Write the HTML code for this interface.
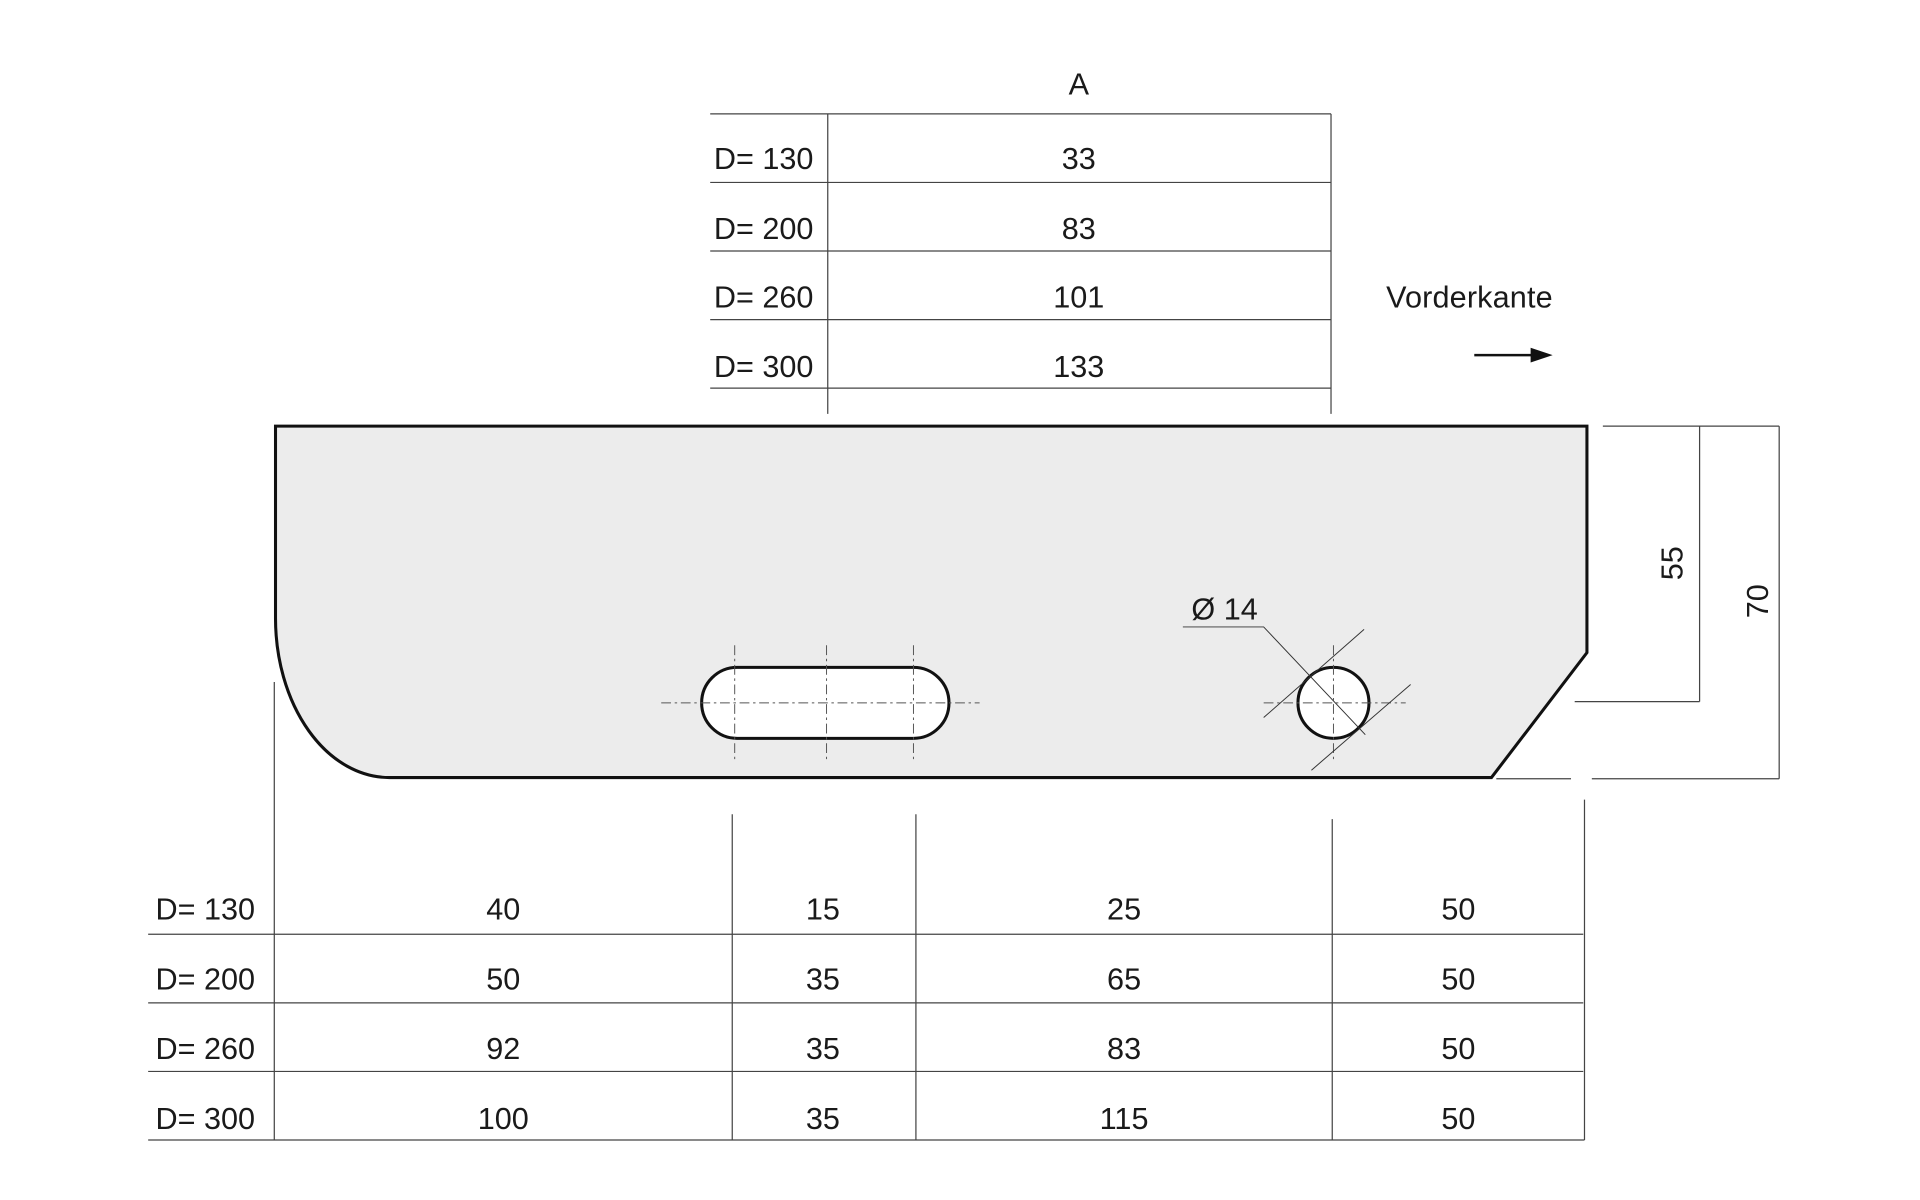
<!DOCTYPE html>
<html><head><meta charset="utf-8"><style>
html,body{margin:0;padding:0;background:#fff;}
svg{display:block;}
text{font-family:"Liberation Sans",sans-serif;font-size:25px;fill:#1a1a1a;}
</style></head><body>
<svg width="1920" height="1200" viewBox="0 0 1568 980" xmlns="http://www.w3.org/2000/svg">
<g stroke="#444" stroke-width="1" fill="none">
<line x1="580" y1="93" x2="1087" y2="93"/>
<line x1="580" y1="149" x2="1087" y2="149"/>
<line x1="580" y1="205" x2="1087" y2="205"/>
<line x1="580" y1="261" x2="1087" y2="261"/>
<line x1="580" y1="317" x2="1087" y2="317"/>
<line x1="676" y1="93" x2="676" y2="338"/>
<line x1="1087" y1="93" x2="1087" y2="338"/>
<line x1="1309" y1="348" x2="1453" y2="348"/>
<line x1="1388" y1="348" x2="1388" y2="573"/>
<line x1="1286" y1="573" x2="1388" y2="573"/>
<line x1="1453" y1="348" x2="1453" y2="636"/>
<line x1="1300" y1="636" x2="1453" y2="636"/>
<line x1="1222" y1="636" x2="1283" y2="636"/>
<line x1="121" y1="763" x2="1293" y2="763"/>
<line x1="121" y1="819" x2="1293" y2="819"/>
<line x1="121" y1="875" x2="1293" y2="875"/>
<line x1="121" y1="931" x2="1294" y2="931"/>
<line x1="224" y1="557" x2="224" y2="931"/>
<line x1="598" y1="665" x2="598" y2="931"/>
<line x1="748" y1="665" x2="748" y2="931"/>
<line x1="1088" y1="669" x2="1088" y2="931"/>
<line x1="1294" y1="653" x2="1294" y2="931"/>
</g>
<path d="M225,348 H1296 V533 L1218,635 H318 A93,130 0 0 1 225,505 Z" fill="#ececec" stroke="#111" stroke-width="2.5"/>
<rect x="573" y="545" width="202" height="58" rx="29" ry="29" fill="#fff" stroke="#111" stroke-width="2.5"/>
<circle cx="1089" cy="574" r="29" fill="#fff" stroke="#111" stroke-width="2.5"/>
<g stroke="#555" stroke-width="0.8" fill="none" stroke-dasharray="8,3,2,3">
<line x1="540" y1="574" x2="800" y2="574"/>
<line x1="600" y1="527" x2="600" y2="620"/>
<line x1="675" y1="527" x2="675" y2="620"/>
<line x1="746" y1="527" x2="746" y2="620"/>
<line x1="1032" y1="574" x2="1148" y2="574"/>
<line x1="1089" y1="527" x2="1089" y2="620"/>
</g>
<g stroke="#333" stroke-width="0.8" fill="none">
<line x1="1032" y1="586" x2="1114" y2="514"/>
<line x1="1071" y1="629" x2="1152" y2="559"/>
<polyline points="966,512 1032,512 1115,600"/>
</g>
<line x1="1204" y1="290" x2="1256" y2="290" stroke="#111" stroke-width="2"/>
<path d="M1268,290 L1250,284 L1250,296 Z" fill="#111"/>
<text x="881" y="77" text-anchor="middle">A</text>
<text x="583" y="138">D= 130</text><text x="881" y="138" text-anchor="middle">33</text>
<text x="583" y="195">D= 200</text><text x="881" y="195" text-anchor="middle">83</text>
<text x="583" y="251">D= 260</text><text x="881" y="251" text-anchor="middle">101</text>
<text x="583" y="308">D= 300</text><text x="881" y="308" text-anchor="middle">133</text>
<text x="1132" y="251" textLength="136">Vorderkante</text>
<text x="973" y="506">Ø 14</text>
<text transform="translate(1374,460) rotate(-90)" text-anchor="middle">55</text>
<text transform="translate(1444,491) rotate(-90)" text-anchor="middle">70</text>
<text x="127" y="751">D= 130</text>
<text x="411" y="751" text-anchor="middle">40</text><text x="672" y="751" text-anchor="middle">15</text><text x="918" y="751" text-anchor="middle">25</text><text x="1191" y="751" text-anchor="middle">50</text>
<text x="127" y="808">D= 200</text>
<text x="411" y="808" text-anchor="middle">50</text><text x="672" y="808" text-anchor="middle">35</text><text x="918" y="808" text-anchor="middle">65</text><text x="1191" y="808" text-anchor="middle">50</text>
<text x="127" y="865">D= 260</text>
<text x="411" y="865" text-anchor="middle">92</text><text x="672" y="865" text-anchor="middle">35</text><text x="918" y="865" text-anchor="middle">83</text><text x="1191" y="865" text-anchor="middle">50</text>
<text x="127" y="922">D= 300</text>
<text x="411" y="922" text-anchor="middle">100</text><text x="672" y="922" text-anchor="middle">35</text><text x="918" y="922" text-anchor="middle">115</text><text x="1191" y="922" text-anchor="middle">50</text>
</svg>
</body></html>
